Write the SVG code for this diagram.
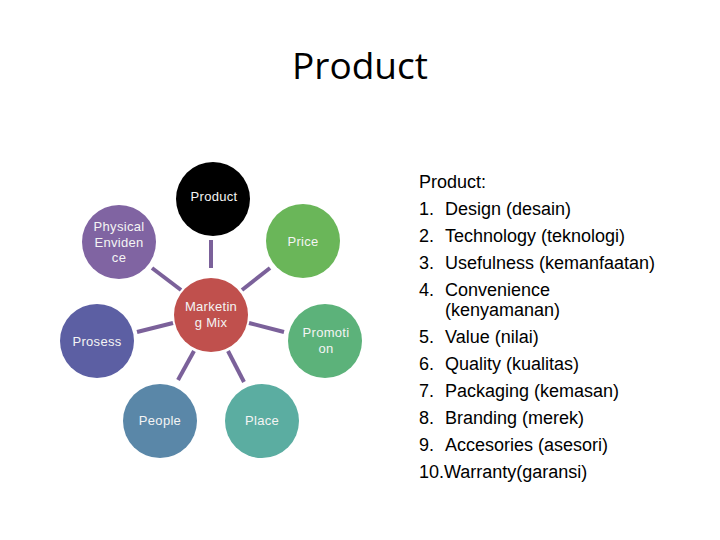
<svg xmlns="http://www.w3.org/2000/svg" width="720" height="540" viewBox="0 0 720 540">
<style>
.t{font-family:"Liberation Sans",Arial,sans-serif;font-size:13px;fill:#f4f4f4;text-anchor:middle;letter-spacing:0.3px}
.l{font-family:"Liberation Sans",Arial,sans-serif;font-size:18px;fill:#000}
.c{stroke:#7b619a;stroke-width:4;stroke-linecap:butt}
</style>
<rect width="720" height="540" fill="#fff"/>
<text x="360" y="79" font-family="'Open Sans','Noto Sans',sans-serif" font-size="36" text-anchor="middle" textLength="136" lengthAdjust="spacingAndGlyphs" fill="#000">Product</text>
<g id="connectors">
<line class="c" x1="211" y1="240" x2="211" y2="268"/>
<line class="c" x1="242" y1="290" x2="270" y2="268"/>
<line class="c" x1="152" y1="268" x2="181" y2="290"/>
<line class="c" x1="137" y1="332" x2="173" y2="323"/>
<line class="c" x1="249" y1="323" x2="284" y2="332"/>
<line class="c" x1="194" y1="351" x2="178" y2="380"/>
<line class="c" x1="228" y1="351" x2="244" y2="382"/>
</g>
<g id="product"><circle cx="213" cy="199" r="37" fill="#000"/><text class="t" x="214" y="201">Product</text></g>
<g id="price"><circle cx="303" cy="241" r="37" fill="#6ab659"/><text class="t" x="303" y="246">Price</text></g>
<g id="physical"><circle cx="119" cy="242" r="37" fill="#8064a2"/><text class="t" x="119" y="231">Physical</text><text class="t" x="119" y="246.5">Enviden</text><text class="t" x="119" y="262">ce</text></g>
<g id="marketing"><circle cx="211" cy="315" r="37" fill="#c0504d"/><text class="t" x="211" y="311">Marketin</text><text class="t" x="211" y="327">g Mix</text></g>
<g id="prosess"><circle cx="97" cy="341" r="37" fill="#5c5fa3"/><text class="t" x="97" y="346">Prosess</text></g>
<g id="promotion"><circle cx="325" cy="341" r="37" fill="#5cb27a"/><text class="t" x="326" y="337">Promoti</text><text class="t" x="326" y="353">on</text></g>
<g id="people"><circle cx="160" cy="421" r="37" fill="#5a87a8"/><text class="t" x="160" y="425">People</text></g>
<g id="place"><circle cx="262" cy="421" r="37" fill="#5badA1"/><text class="t" x="262" y="425">Place</text></g>
<g id="list">
<text class="l" x="419" y="188">Product:</text>
<text class="l" x="419" y="215">1.</text><text class="l" x="445" y="215">Design (desain)</text>
<text class="l" x="419" y="242">2.</text><text class="l" x="445" y="242">Technology (teknologi)</text>
<text class="l" x="419" y="269">3.</text><text class="l" x="445" y="269">Usefulness (kemanfaatan)</text>
<text class="l" x="419" y="296">4.</text><text class="l" x="445" y="296">Convenience</text>
<text class="l" x="445" y="316">(kenyamanan)</text>
<text class="l" x="419" y="343">5.</text><text class="l" x="445" y="343">Value (nilai)</text>
<text class="l" x="419" y="370">6.</text><text class="l" x="445" y="370">Quality (kualitas)</text>
<text class="l" x="419" y="397">7.</text><text class="l" x="445" y="397">Packaging (kemasan)</text>
<text class="l" x="419" y="424">8.</text><text class="l" x="445" y="424">Branding (merek)</text>
<text class="l" x="419" y="451">9.</text><text class="l" x="445" y="451">Accesories (asesori)</text>
<text class="l" x="419" y="478">10.</text><text class="l" x="444" y="478">Warranty(garansi)</text>
</g>
</svg>
